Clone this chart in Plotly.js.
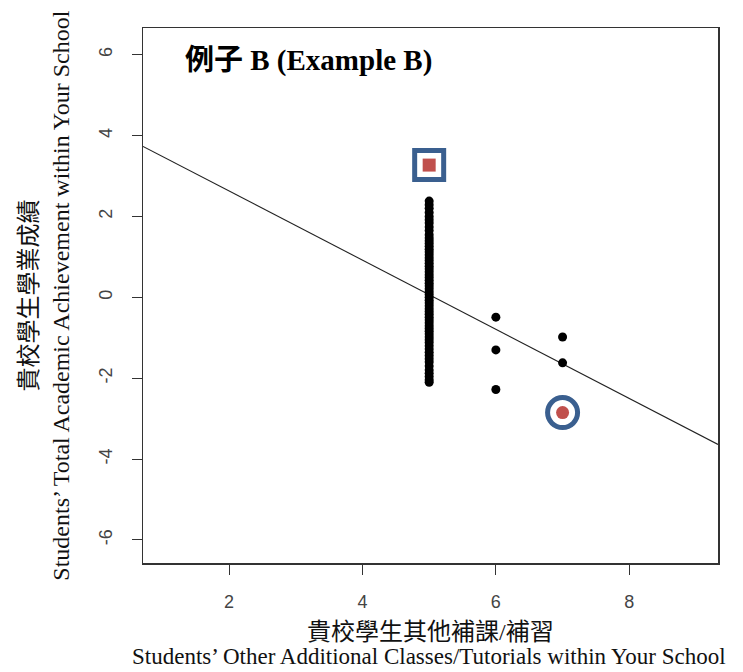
<!DOCTYPE html>
<html><head><meta charset="utf-8">
<script src="https://cdn.plot.ly/plotly-3.0.1.min.js"></script>
<style>html,body{margin:0;padding:0;background:#fff}</style>
</head><body><div id="chart" style="width:743px;height:672px"></div>
<script>
// Data
const col5X = 5;
const col5Y = [2.38, 2.29, 2.20, 2.10, 2.00, 1.92, 1.84, 1.74, 1.65, 1.55, 1.47, 1.40, 1.33, 1.26, 1.19, 1.12, 1.05, 0.98, 0.91, 0.84, 0.77, 0.70, 0.63, 0.56, 0.49, 0.42, 0.35, 0.28, 0.21, 0.14, 0.07, 0.0, -0.07, -0.14, -0.21, -0.28, -0.35, -0.42, -0.49, -0.56, -0.63, -0.70, -0.77, -0.84, -0.91, -0.98, -1.05, -1.12, -1.20, -1.28, -1.36, -1.44, -1.52, -1.60, -1.70, -1.80, -1.88, -1.96, -2.04, -2.10];
const otherX = [6, 6, 6, 7, 7];
const otherY = [-0.49, -1.30, -2.28, -0.98, -1.62];
const squareX = [5], squareY = [3.27];
const circleX = [7], circleY = [-2.85];
const fitIntercept = 4.34, fitSlope = -0.855;
const xRange = [0.71, 9.33], yRange = [-6.57, 6.66];
const xTicks = [2, 4, 6, 8];
const yTicks = [-6, -4, -2, 0, 2, 4, 6];
const titleText = '例子 B (Example B)';
const xTitleZh = '貴校學生其他補課/補習';
const xTitleEn = 'Students’ Other Additional Classes/Tutorials within Your School';
const yTitleZh = '貴校學生學業成績';
const yTitleEn = 'Students’ Total Academic Achievement within Your School';

const serif = 'Liberation Serif, "Noto Sans CJK TC", serif';
const blue = '#3a5f8f', red = '#c0504d';

const traces = [
  {x: xRange, y: xRange.map(v => fitIntercept + fitSlope * v), mode: 'lines',
   line: {color: '#222', width: 1.1}, hoverinfo: 'skip'},
  {x: col5Y.map(() => col5X), y: col5Y, mode: 'markers',
   marker: {color: '#000', size: 9}},
  {x: otherX, y: otherY, mode: 'markers', marker: {color: '#000', size: 9}},
  {x: squareX, y: squareY, mode: 'markers',
   marker: {symbol: 'square', size: 29, color: '#fff', line: {color: blue, width: 5}}},
  {x: squareX, y: squareY, mode: 'markers',
   marker: {symbol: 'square', size: 13, color: red}},
  {x: circleX, y: circleY, mode: 'markers',
   marker: {symbol: 'circle', size: 30, color: '#fff', line: {color: blue, width: 5}}},
  {x: circleX, y: circleY, mode: 'markers',
   marker: {symbol: 'circle', size: 13, color: red}}
];

const axisCommon = {
  showgrid: false, zeroline: false, showline: true, mirror: true,
  linecolor: '#333', linewidth: 1.5, ticks: 'outside', ticklen: 10,
  tickwidth: 1, tickcolor: '#333',
  tickfont: {family: 'Liberation Sans, Arial, sans-serif', size: 18, color: '#444'}
};

const layout = {
  width: 743, height: 672,
  margin: {l: 143, r: 25, t: 28, b: 109},
  paper_bgcolor: '#fff', plot_bgcolor: '#fff',
  showlegend: false,
  xaxis: Object.assign({}, axisCommon, {range: xRange, tickvals: xTicks,
    ticktext: xTicks.map(String), ticklabelstandoff: 12}),
  yaxis: Object.assign({}, axisCommon, {range: yRange, tickvals: yTicks,
    ticktext: yTicks.map(String), tickangle: -90, ticklabelstandoff: 12}),
  annotations: [
    {text: '<b>' + titleText + '</b>', xref: 'paper', yref: 'paper', x: 0.0696, y: 0.94,
     xanchor: 'left', yanchor: 'middle', showarrow: false,
     font: {family: serif, size: 29, color: '#000'}},
    {text: xTitleZh, xref: 'paper', yref: 'paper', x: 0.5, y: -0.129,
     xanchor: 'center', yanchor: 'middle', showarrow: false,
     font: {family: serif, size: 24, color: '#111'}},
    {text: xTitleEn, xref: 'paper', yref: 'paper', x: 0.497, y: -0.2015,
     xanchor: 'center', yanchor: 'bottom', showarrow: false,
     font: {family: serif, size: 23, color: '#111'}},
    {text: yTitleZh, xref: 'paper', yref: 'paper', x: -0.2, y: 0.5,
     xanchor: 'center', yanchor: 'middle', showarrow: false, textangle: -90,
     font: {family: serif, size: 24, color: '#111'}},
    {text: yTitleEn, xref: 'paper', yref: 'paper', x: -0.144, y: 0.5,
     xanchor: 'center', yanchor: 'middle', showarrow: false, textangle: -90,
     font: {family: serif, size: 24, color: '#111'}}
  ]
};

Plotly.newPlot('chart', traces, layout, {displayModeBar: false, staticPlot: true});
</script>
</body></html>
